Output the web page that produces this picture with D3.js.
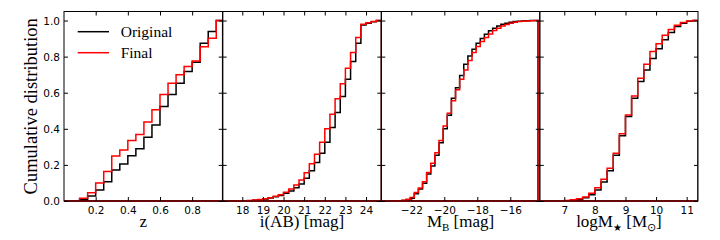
<!DOCTYPE html>
<html><head><meta charset="utf-8">
<script src="https://cdn.jsdelivr.net/npm/d3@7"></script>
<style>
html,body{margin:0;padding:0;background:#fff;}
svg{display:block;}
.tick text{font-family:"DejaVu Sans",sans-serif;font-size:10.5px;fill:#000;}
.lab{font-family:"Liberation Serif","Times New Roman",serif;fill:#000;}
</style></head>
<body><svg id="c" width="720" height="240"></svg>
<script>
// ---------- data ----------
const zEdges = [0.10,0.15,0.20,0.25,0.30,0.35,0.40,0.45,0.50,0.55,0.60,0.65,0.70,0.75,0.80,0.85,0.90,0.95,0.99];
const zOriginal = [0.009,0.028,0.061,0.107,0.172,0.205,0.251,0.290,0.353,0.421,0.523,0.590,0.653,0.717,0.769,0.874,0.939,1.0];
const zFinal    = [0.015,0.046,0.100,0.163,0.250,0.283,0.335,0.368,0.438,0.505,0.590,0.653,0.699,0.745,0.776,0.854,0.902,1.0];

const iEdges = d3.range(0, 31).map(k => 17.25 + 0.25 * k);
const iOriginal = [0,0,0.001,0.001,0.002,0.004,0.007,0.011,0.017,0.024,0.031,0.043,0.055,0.074,0.094,0.126,0.168,0.213,0.264,0.325,0.407,0.490,0.579,0.675,0.773,0.874,0.975,0.985,0.993,1.0];
const iFinal    = [0,0,0.001,0.002,0.003,0.005,0.009,0.013,0.018,0.026,0.035,0.048,0.067,0.089,0.116,0.157,0.207,0.259,0.325,0.400,0.480,0.566,0.649,0.736,0.823,0.906,0.980,0.987,0.994,1.0];

const mbEdges = d3.range(0, 39).map(k => -23.82 + 0.25 * k);
const mbOriginal = [0,0,0,0.001,0.001,0.003,0.007,0.015,0.040,0.066,0.098,0.150,0.194,0.253,0.323,0.400,0.475,0.569,0.628,0.695,0.758,0.804,0.841,0.874,0.900,0.924,0.943,0.957,0.970,0.979,0.985,0.990,0.994,0.996,0.998,0.999,1.0,1.0];
const mbFinal    = [0,0,0,0.001,0.002,0.004,0.010,0.020,0.047,0.072,0.106,0.158,0.209,0.268,0.335,0.416,0.486,0.556,0.616,0.675,0.726,0.778,0.823,0.856,0.884,0.906,0.926,0.945,0.957,0.969,0.978,0.985,0.991,0.994,0.996,0.998,0.999,1.0];

const mEdges = d3.range(0, 26).map(k => 6.2 + 0.2 * k).concat([11.37]);
const mOriginal = [0,0,0,0.001,0.002,0.004,0.009,0.018,0.035,0.061,0.105,0.168,0.253,0.362,0.468,0.569,0.662,0.726,0.789,0.843,0.893,0.933,0.967,0.985,0.996,1.0];
const mFinal    = [0,0,0,0.001,0.003,0.007,0.013,0.022,0.043,0.074,0.120,0.181,0.264,0.372,0.477,0.582,0.680,0.758,0.828,0.871,0.919,0.950,0.974,0.989,0.998,1.0];

const yTicks = [0,0.2,0.4,0.6,0.8,1.0];
const zTicks = [0.2,0.4,0.6,0.8];
const iTicks = [18,19,20,21,22,23,24];
const mbTicks = [-22,-20,-18,-16];
const mTicks = [7,8,9,10,11];
const seriesNames = ["Original","Final"];
const seriesColors = ["#000000","#ff0000"];

// ---------- layout ----------
const svg = d3.select("#c");
const yTop = 11.5, yBot = 201;
const y = d3.scaleLinear().domain([0,1.05]).range([yBot,yTop]);

const panels = [
  {px:[64,222.7], dom:[0.003,0.99], edges:zEdges, orig:zOriginal, fin:zFinal, ticks:zTicks, fmt:d3.format(".1f"), label:"z"},
  {px:[222.7,381.3], dom:[17.05,24.74], edges:iEdges, orig:iOriginal, fin:iFinal, ticks:iTicks, fmt:d3.format("d"), label:"iab"},
  {px:[381.3,539.8], dom:[-23.82,-14.21], edges:mbEdges, orig:mbOriginal, fin:mbFinal, ticks:mbTicks, fmt:d => (d<0?"\u2212":"")+Math.abs(d), label:"mb"},
  {px:[539.8,698], dom:[6.2,11.37], edges:mEdges, orig:mOriginal, fin:mFinal, ticks:mTicks, fmt:d3.format("d"), label:"ms"}
];

function stepPoints(edges, vals, x0){
  const pts = [[x0,0],[edges[0],0]];
  vals.forEach((v,i) => { pts.push([edges[i],v],[edges[i+1],v]); });
  pts.push([edges[edges.length-1],0]);
  pts.push([x0,0]);
  return pts;
}

panels.forEach((p,pi) => {
  const x = d3.scaleLinear().domain(p.dom).range(p.px);
  const g = svg.append("g");
  const cid = "clip"+pi;
  svg.append("clipPath").attr("id",cid).append("rect")
    .attr("x",p.px[0]).attr("y",yTop-2).attr("width",p.px[1]-p.px[0]).attr("height",yBot-yTop+3);
  const line = d3.line().x(d => x(d[0])).y(d => y(d[1]));
  const dg = g.append("g").attr("clip-path","url(#"+cid+")");
  [p.orig,p.fin].forEach((vals,si) => {
    dg.append("path").attr("d", line(stepPoints(p.edges, vals, p.dom[0])))
      .attr("fill","none").attr("stroke",seriesColors[si]).attr("stroke-width",1.5)
      .attr("stroke-linejoin","miter");
  });
  // axes
  const bottom = d3.axisBottom(x).tickValues(p.ticks).tickFormat(p.fmt).tickSizeInner(-4).tickSizeOuter(0).tickPadding(8);
  const top = d3.axisTop(x).tickValues(p.ticks).tickFormat("").tickSizeInner(-4).tickSizeOuter(0);
  const left = d3.axisLeft(y).tickValues(yTicks).tickFormat(pi===0 ? d3.format(".1f") : "").tickSizeInner(-4).tickSizeOuter(0).tickPadding(8);
  const right = d3.axisRight(y).tickValues(yTicks).tickFormat("").tickSizeInner(-4).tickSizeOuter(0);
  const ab = g.append("g").attr("transform",`translate(0,${yBot})`).call(bottom);
  const at = g.append("g").attr("transform",`translate(0,${yTop})`).call(top);
  const al = g.append("g").attr("transform",`translate(${p.px[0]},0)`).call(left);
  const ar = g.append("g").attr("transform",`translate(${p.px[1]},0)`).call(right);
  [ab,at,al,ar].forEach(a => { a.select(".domain").remove(); a.selectAll("line").attr("stroke","#000"); a.attr("font-size",null).attr("font-family",null); });
  ab.selectAll("text").attr("dy",null).attr("y",12.5);
  al.selectAll("text").attr("x",-4).attr("dy","0.35em");
  g.append("rect").attr("x",p.px[0]).attr("y",yTop).attr("width",p.px[1]-p.px[0]).attr("height",yBot-yTop)
    .attr("fill","none").attr("stroke","#000").attr("stroke-width",1);

  // x label
  const cx = (p.px[0]+p.px[1])/2;
  const t = g.append("text").attr("class","lab").attr("x",cx).attr("y",227).attr("text-anchor","middle").style("font-size","17px");
  if (p.label==="z") t.text("z");
  else if (p.label==="iab") t.text("i(AB) [mag]");
  else if (p.label==="mb") {
    t.append("tspan").text("M");
    t.append("tspan").attr("dy",4).style("font-size","11px").text("B");
    t.append("tspan").attr("dy",-4).text(" [mag]");
  } else {
    t.append("tspan").text("logM");
    t.append("tspan").attr("dy",4).style("font-size","10px").text("\u2605");
    t.append("tspan").attr("dy",-4).text(" [M");
    t.append("tspan").attr("dy",4).style("font-size","11px").text("\u2299");
    t.append("tspan").attr("dy",-4).text("]");
  }
});

// y label
svg.append("text").attr("class","lab").attr("transform","translate(37,106.3) rotate(-90)")
  .attr("text-anchor","middle").style("font-size","18.5px").text("Cumulative distribution");

// legend
const leg = svg.append("g");
seriesNames.forEach((n,i) => {
  const ly = 31.7 + i*21;
  leg.append("line").attr("x1",77.7).attr("x2",109).attr("y1",ly).attr("y2",ly)
    .attr("stroke",seriesColors[i]).attr("stroke-width",1.5);
  leg.append("text").attr("class","lab").attr("x",120.7).attr("y",ly+4.8).style("font-size","15.5px").text(n);
});
</script></body></html>
